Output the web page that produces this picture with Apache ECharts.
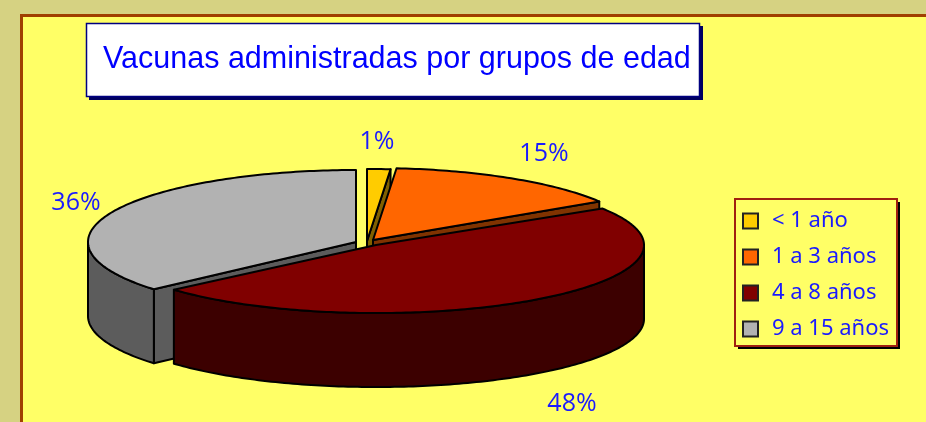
<!DOCTYPE html>
<html>
<head>
<meta charset="utf-8">
<script src="https://cdn.jsdelivr.net/npm/echarts@6/dist/echarts.min.js"></script>
<style>
  html, body { margin: 0; padding: 0; background: #d6d282; }
  #chart { width: 926px; height: 422px; }
</style>
</head>
<body>
<div id="chart"></div>
<script>
const titleText = "Vacunas administradas por grupos de edad";
const categories = ["< 1 año", "1 a 3 años", "4 a 8 años", "9 a 15 años"];
const shares = [1.4, 14.6, 47.6, 36.4];

const topColors = ["#ffcc00", "#ff6600", "#800000", "#b2b2b2"];
const sideColors = ["#806000", "#803300", "#3c0000", "#5c5c5c"];
const textBlue = "#1a1aff";

// exploded offset of each slice from the pie centre, px
const explode = [[11, -1], [17, -2], [20, 3], [0, 0]];
// the front slice sits a bit flatter in the original's perspective
const squash = [1, 1, 0.945, 1];
const labelPos = [[377, 142], [544, 154], [572, 404], [76, 203]];
const depth = 74;
// back to front
const drawOrder = [3, 0, 1, 2];

const total = shares.reduce((a, b) => a + b, 0);
const starts = [];
shares.reduce((sum, v, i) => { starts[i] = sum / total * 360; return sum + v; }, 0);

function sliceItem(i) {
  return function (params, api) {
    const a0 = starts[i], a1 = a0 + shares[i] / total * 360;
    const c = api.coord([0, 0]);
    const apex = drop => [c[0] + explode[i][0], c[1] + explode[i][1] + (drop ? depth : 0)];
    const pt = (deg, drop) => {
      const r = deg * Math.PI / 180;
      const p = api.coord([Math.sin(r), Math.cos(r)]);
      const o = apex(drop);
      return [o[0] + p[0] - c[0], o[1] + (p[1] - c[1]) * squash[i]];
    };
    const arc = (from, to, drop) => {
      const out = [];
      for (let d = from; d < to; d += 1) out.push(pt(d, drop));
      out.push(pt(to, drop));
      return out;
    };
    const face = (points, fill) => ({
      type: "polygon",
      shape: { points: points },
      style: { fill: fill, stroke: "#000", lineWidth: 2, lineJoin: "round" }
    });

    const children = [];
    const side = sideColors[i];
    // cut faces, only the ones turned towards the viewer
    if (Math.sin(a0 * Math.PI / 180) < -0.001) {
      children.push(face([apex(false), pt(a0, false), pt(a0, true), apex(true)], side));
    }
    if (Math.sin(a1 * Math.PI / 180) > 0.001) {
      children.push(face([apex(false), pt(a1, false), pt(a1, true), apex(true)], side));
    }
    // outer wall, front half of the rim
    const w0 = Math.max(a0, 90), w1 = Math.min(a1, 270);
    if (w1 > w0) {
      children.push(face(arc(w0, w1, false).concat(arc(w0, w1, true).reverse()), side));
    }
    children.push(face([apex(false)].concat(arc(a0, a1, false)), topColors[i]));
    children.push({
      type: "text",
      style: {
        text: Math.round(shares[i]) + "%",
        x: labelPos[i][0], y: labelPos[i][1],
        align: "center", verticalAlign: "middle",
        fill: textBlue, font: '25px "Open Sans"'
      }
    });
    return { type: "group", children: children };
  };
}

const chart = echarts.init(document.getElementById("chart"), null, { renderer: "canvas" });
chart.setOption({
  animation: false,
  backgroundColor: "#d6d282",
  // unit circle squashed to the ellipse of the pie top
  grid: { left: 88, top: 170, width: 536, height: 144 },
  xAxis: { type: "value", min: -1, max: 1, show: false },
  yAxis: { type: "value", min: -1, max: 1, show: false },
  legend: {
    orient: "vertical",
    left: 742,
    top: 210,
    padding: 0,
    data: categories,
    icon: "rect",
    itemWidth: 15,
    itemHeight: 15,
    itemGap: 14,
    selectedMode: false,
    itemStyle: { borderColor: "#222", borderWidth: 2 },
    textStyle: { color: textBlue, fontFamily: "Noto Sans", fontSize: 22, padding: [0, 0, 0, 9] }
  },
  graphic: [
    { type: "rect", z: -10, shape: { x: 21.5, y: 15.5, width: 1000, height: 500 },
      style: { fill: "#ffff66", stroke: "#a04000", lineWidth: 3 } },
    { type: "rect", z: -9, shape: { x: 89, y: 26, width: 614, height: 74 }, style: { fill: "#000060" } },
    { type: "rect", z: -8, shape: { x: 86.5, y: 23.5, width: 613, height: 73 },
      style: { fill: "#fff", stroke: "#000080", lineWidth: 1.5 } },
    { type: "text", z: -7, style: { text: titleText, x: 103, y: 60, verticalAlign: "middle",
        fill: "#0000ff", font: '30.5px "Liberation Sans"' } },
    { type: "rect", z: -6, shape: { x: 738, y: 202, width: 162, height: 147 }, style: { fill: "#000" } },
    { type: "rect", z: -5, shape: { x: 735, y: 199, width: 162, height: 147 },
      style: { fill: "#ffff66", stroke: "#a02010", lineWidth: 2 } }
  ],
  series: drawOrder.map(i => ({
    type: "custom",
    name: categories[i],
    coordinateSystem: "cartesian2d",
    clip: false,
    silent: true,
    itemStyle: { color: topColors[i] },
    renderItem: sliceItem(i),
    data: [[0, 0]]
  }))
});
</script>
</body>
</html>
